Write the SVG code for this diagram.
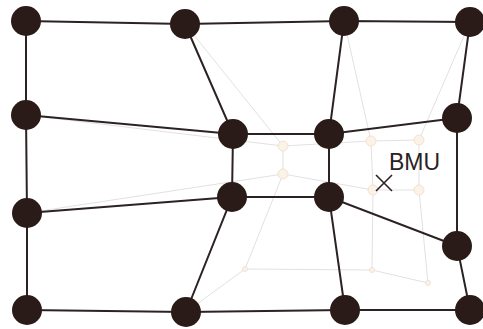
<svg xmlns="http://www.w3.org/2000/svg" width="483" height="329" viewBox="0 0 483 329">
<style>
.g{stroke:#d9d9d9;stroke-width:0.8;fill:none}
.e{stroke:#2b2222;stroke-width:2;fill:none}
.n{fill:#2a1a18}
.gn{fill:#fcf2e8;stroke:#efdcc8;stroke-width:0.8}
.t{font-family:"Liberation Sans",Arial,sans-serif;font-size:23px;fill:#2a2222}
</style>
<rect width="483" height="329" fill="#ffffff"/>
<g id="ghost-connectors">
<polyline class="g" points="26,115 283,146 371,141 419,140"/>
<polyline class="g" points="27,213 283,174 373,190 419,190"/>
<polyline class="g" points="186,312 245,269 372,270 428,283"/>
<polyline class="g" points="185,24 283,146 283,174 245,269"/>
<polyline class="g" points="344,21 371,141 373,190 372,270"/>
<polyline class="g" points="470,22 419,140 419,190 428,283"/>
</g>
<g id="ghost-nodes">
<circle class="gn" cx="283" cy="146" r="5"/>
<circle class="gn" cx="371" cy="141" r="5"/>
<circle class="gn" cx="419" cy="140" r="5"/>
<circle class="gn" cx="283" cy="174" r="5"/>
<circle class="gn" cx="373" cy="190" r="5"/>
<circle class="gn" cx="419" cy="190" r="5"/>
<circle class="gn" cx="245" cy="269" r="2.5"/>
<circle class="gn" cx="372" cy="270" r="2.5"/>
<circle class="gn" cx="428" cy="283" r="2.5"/>
</g>
<g id="connectors">
<polyline class="e" points="26,21 185,24 344,21 470,22"/>
<polyline class="e" points="26,115 233,134 329,134 457,118"/>
<polyline class="e" points="27,213 232,197 329,197 457,246"/>
<polyline class="e" points="27,310 186,312 345,310 470,310"/>
<polyline class="e" points="26,21 26,115 27,213 27,310"/>
<polyline class="e" points="185,24 233,134 232,197 186,312"/>
<polyline class="e" points="344,21 329,134 329,197 345,310"/>
<polyline class="e" points="470,22 457,118 457,246 470,310"/>
</g>
<g id="n11"><circle class="n" cx="26" cy="21" r="15"/></g>
<g id="n12"><circle class="n" cx="185" cy="24" r="15"/></g>
<g id="n13"><circle class="n" cx="344" cy="21" r="15"/></g>
<g id="n14"><circle class="n" cx="470" cy="22" r="15"/></g>
<g id="n21"><circle class="n" cx="26" cy="115" r="15"/></g>
<g id="n22"><circle class="n" cx="233" cy="134" r="15"/></g>
<g id="n23"><circle class="n" cx="329" cy="134" r="15"/></g>
<g id="n24"><circle class="n" cx="457" cy="118" r="15"/></g>
<g id="n31"><circle class="n" cx="27" cy="213" r="15"/></g>
<g id="n32"><circle class="n" cx="232" cy="197" r="15"/></g>
<g id="n33"><circle class="n" cx="329" cy="197" r="15"/></g>
<g id="n34"><circle class="n" cx="457" cy="246" r="15"/></g>
<g id="n41"><circle class="n" cx="27" cy="310" r="15"/></g>
<g id="n42"><circle class="n" cx="186" cy="312" r="15"/></g>
<g id="n43"><circle class="n" cx="345" cy="310" r="15"/></g>
<g id="n44"><circle class="n" cx="470" cy="310" r="15"/></g>
<g id="bmu">
<text class="t" x="389" y="170">BMU</text>
<path d="M376,175 L392,191 M392,175 L376,191" stroke="#2a2222" stroke-width="1.6" fill="none"/>
</g>
</svg>
